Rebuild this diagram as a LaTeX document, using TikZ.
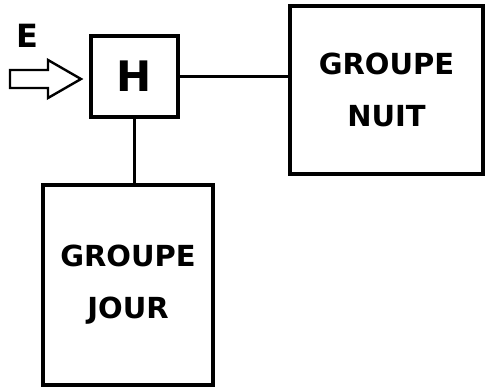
\documentclass[tikz,border=0pt]{standalone}
\usepackage{fontspec}
\setmainfont{DejaVu Sans}
\begin{document}
\begin{tikzpicture}[x=1pt,y=-1pt,
  blockbox/.style={draw,line width=3.2pt,inner sep=0pt,align=center},
  lbl/.style={font=\bfseries\fontsize{29}{52}\selectfont},
  conn/.style={line width=2.4pt}]
\useasboundingbox (0,0) rectangle (486,388);
\node[blockbox,minimum width=87pt,minimum height=81pt,font=\bfseries\fontsize{42}{44}\selectfont] (H) at (134.5,76.5) {H};
\node[blockbox,lbl,minimum width=193pt,minimum height=168pt,text width=190pt] (nuit) at (386.5,90) {GROUPE\\NUIT};
\node[blockbox,lbl,minimum width=170pt,minimum height=200pt,text width=165pt] (jour) at (128,285) {GROUPE\\JOUR};
\node[font=\bfseries\fontsize{32}{34}\selectfont] (E) at (27,36) {E};
\coordinate (tip) at (81,79);
\draw[line width=2.4pt,line join=miter] (10,70) -- (48,70) -- (48,60) -- (tip) -- (48,98) -- (48,88) -- (10,88) -- cycle;
\draw[conn] (H.east) -- (H.east -| nuit.west);
\draw[conn] (H.south) -- (H.south |- jour.north);
\end{tikzpicture}
\end{document}
